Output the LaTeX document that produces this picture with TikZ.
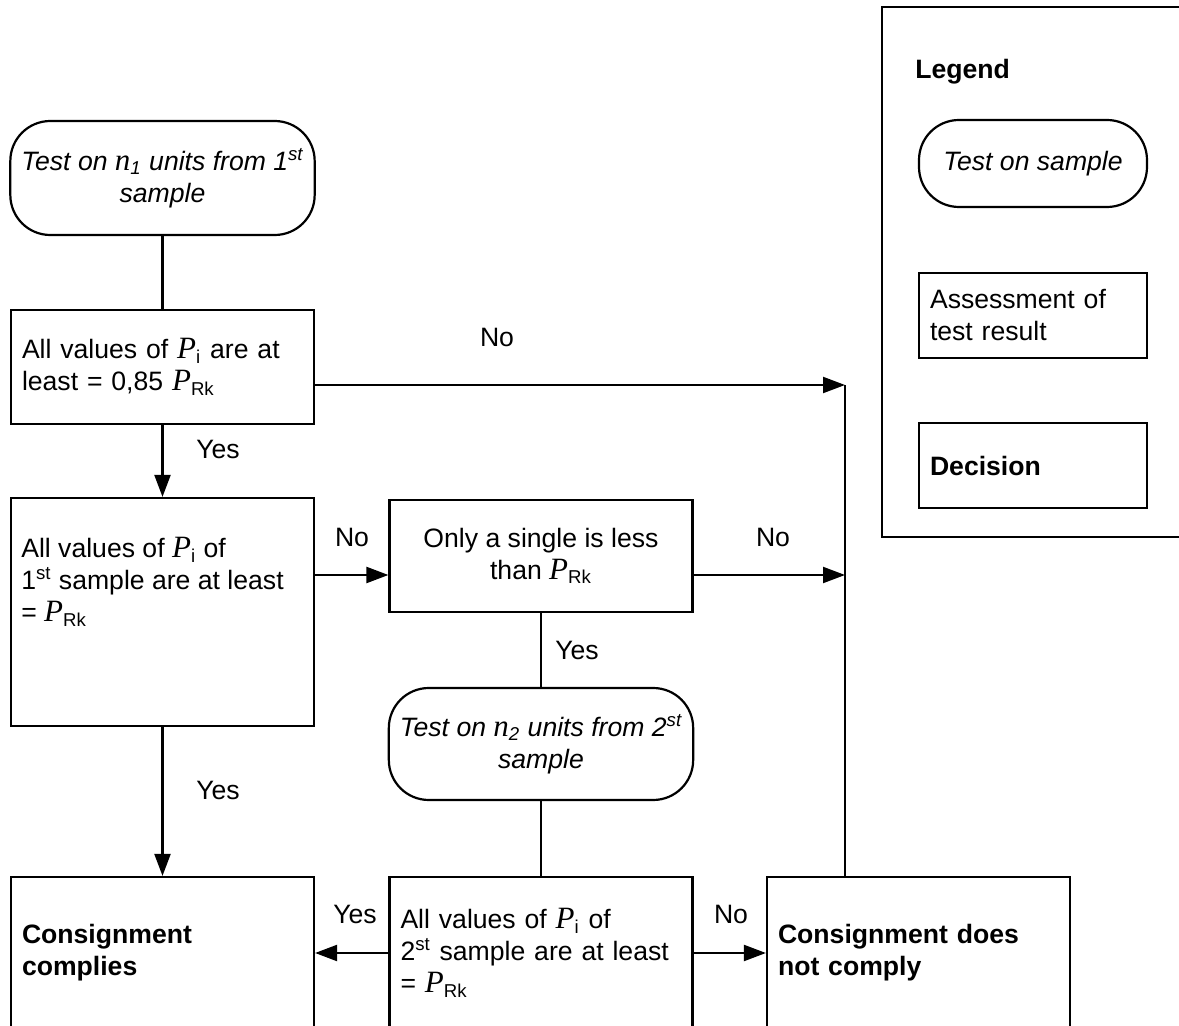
\documentclass[tikz,border=0pt]{standalone}
\usepackage{fontspec}
\setmainfont{Liberation Sans}
\newfontfamily\serifvar{Liberation Serif}
\usetikzlibrary{arrows.meta,positioning}
\newcommand\Pvar{{\serifvar\itshape\fontsize{15.5}{16}\selectfont P}}
\newcommand\nvar[1]{{\serifvar\itshape\fontsize{15.5}{16}\selectfont n}\textsubscript{#1}}

\begin{document}
\begin{tikzpicture}[x=0.5pt,y=-0.5pt,
    every node/.style={font=\fontsize{13.3}{16}\selectfont},
    box/.style={draw,line width=1.1pt,minimum width=151.5pt,inner xsep=5.5pt},
    testbox/.style={box,rounded corners=20pt,align=center,font=\fontsize{13.3}{16}\selectfont\itshape},
    assess/.style={box,text width=140.5pt,align=left},
    txt/.style={inner sep=0pt,align=left},
    lbl/.style={inner sep=0pt},
    arr/.style={line width=1.1pt,-{Triangle[length=11pt,width=8pt]}},
    ln/.style={line width=1.1pt}]
    %%%%% START %%%%%
    \useasboundingbox (0,0) rectangle (1179,1026);
    \clip (0,0) rectangle (1179,1026);

    % first sample
    \node[testbox,minimum height=57pt] (T1) at (162.5,178) {Test on \nvar{1} units from 1\textsuperscript{st}\\sample};
    \node[assess,minimum height=57pt] (A) at (162.5,367) {All values of \Pvar\textsubscript{i} are at\\least = 0,85 \Pvar\textsubscript{Rk}};
    \node[box,minimum height=114pt] (B) at (162.5,612) {};
    \node[txt,anchor=west] (Bt) at ([xshift=5.5pt,yshift=15pt]B.west) {All values of \Pvar\textsubscript{i} of\\1\textsuperscript{st} sample are at least\\= \Pvar\textsubscript{Rk}};
    \node[box,minimum height=56pt,align=center] (C) at (541,556) {Only a single is less\\than \Pvar\textsubscript{Rk}};

    % second sample
    \node[testbox,minimum height=56pt] (T2) at (541,744) {Test on \nvar{2} units from 2\textsuperscript{st}\\sample};
    \node[assess,minimum height=76pt] (D) at (541,953) {All values of \Pvar\textsubscript{i} of\\2\textsuperscript{st} sample are at least\\= \Pvar\textsubscript{Rk}};

    % decisions
    \node[assess,minimum height=76pt,font=\fontsize{13.3}{16}\selectfont\bfseries] (OK) at (162.5,953) {Consignment\\complies};
    \node[assess,minimum height=76pt,font=\fontsize{13.3}{16}\selectfont\bfseries] (NOK) at (918.5,953) {Consignment does\\not comply};

    \coordinate (m1) at (845,385);
    \coordinate (m2) at (845,575);

    \draw[ln] (T1) -- (A);
    \draw[arr] (A) -- (B);
    \draw[arr] (B) -- (OK);
    \draw[arr] (A.east |- m1) -- (m1);
    \draw[arr] (B.east |- m2) -- (C.west |- m2);
    \draw[arr] (C.east |- m2) -- (m2);
    \draw[ln] (NOK.north -| m1) -- (m1);
    \draw[ln] (C) -- (T2);
    \draw[ln] (T2) -- (D);
    \draw[arr] (D) -- (OK);
    \draw[arr] (D) -- (NOK);

    \node[lbl] (no1) at (497,337) {No};
    \node[lbl] (yes1) at (218,449) {Yes};
    \node[lbl] (no2) at (352,537) {No};
    \node[lbl] (no3) at (773,537) {No};
    \node[lbl] (yes2) at (577,650) {Yes};
    \node[lbl] (yes3) at (218,790) {Yes};
    \node[lbl] (yes4) at (355,914) {Yes};
    \node[lbl] (no4) at (731,914) {No};

    % legend
    \node[draw,line width=1.1pt,minimum width=154pt,minimum height=265pt] (leg) at (1036,272) {};
    \node[lbl,anchor=west,font=\fontsize{13.3}{16}\selectfont\bfseries] (legt) at (915,72) {Legend};
    \node[testbox,minimum width=114pt,minimum height=43.5pt] (L1) at (1033,163.5) {Test on sample};
    \node[box,minimum width=114pt,minimum height=42.5pt,text width=103pt,align=left] (L2) at (1033,315.5) {Assessment of\\test result};
    \node[box,minimum width=114pt,minimum height=42.5pt,text width=103pt,align=left,font=\fontsize{13.3}{16}\selectfont\bfseries] (L3) at (1033,465.5) {Decision};
    %%%%% END %%%%%
\end{tikzpicture}
\end{document}
